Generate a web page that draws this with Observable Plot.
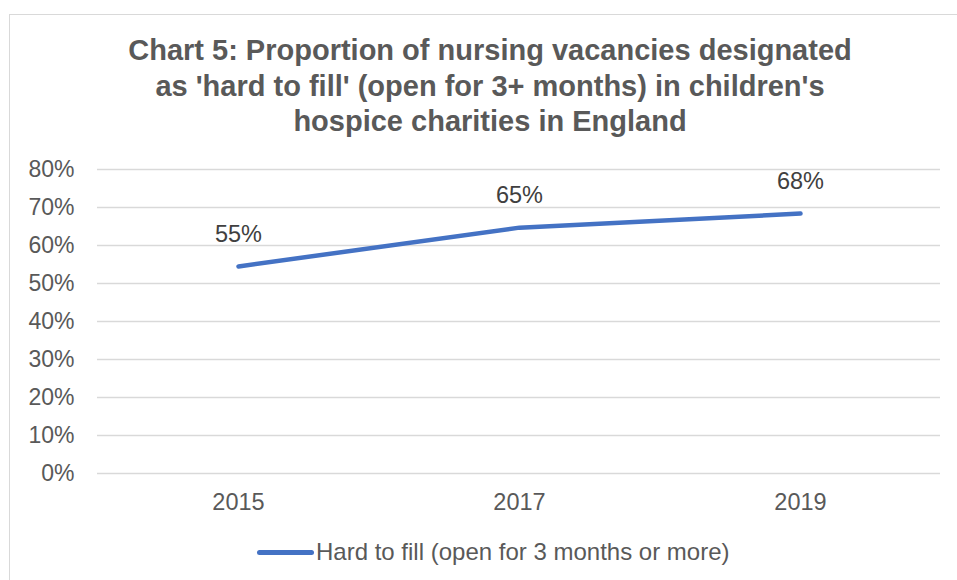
<!DOCTYPE html>
<html>
<head>
<meta charset="utf-8">
<script src="https://cdn.jsdelivr.net/npm/d3@7"></script>
<script src="https://cdn.jsdelivr.net/npm/@observablehq/plot@0.6"></script>
<style>
  body { margin: 0; background: #fff; font-family: "Liberation Sans", Arial, sans-serif; }
  #wrap { position: relative; width: 957px; height: 580px; overflow: hidden; }
  #frame { position: absolute; left: 9px; top: 14px; width: 1000px; height: 700px; border: 1.5px solid #d9d9d9; box-sizing: border-box; }
  #title { position: absolute; left: 0; width: 980px; top: 33px; text-align: center; font-weight: bold; font-size: 29px; line-height: 35.5px; color: #595959; white-space: nowrap; }
  #chart { position: absolute; left: 0; top: 150px; }
  #legend { position: absolute; top: 538px; left: 257px; font-size: 24px; line-height: 28px; color: #595959; display: flex; align-items: center; white-space: nowrap; }
  #legend .sw { width: 57px; height: 5px; background: #4472C4; border-radius: 3px; margin-right: 2px; }
</style>
</head>
<body>
<div id="wrap">
  <div id="frame"></div>
  <div id="title">Chart 5: Proportion of nursing vacancies designated<br>as 'hard to fill' (open for 3+ months) in children's<br>hospice charities in England</div>
  <div id="chart"></div>
  <div id="legend"><div class="sw"></div><span>Hard to fill (open for 3 months or more)</span></div>
</div>
<script>
const years = ["2015", "2017", "2019"];
const values = [0.545, 0.647, 0.684];
const labels = ["55%", "65%", "68%"];
const yTicks = [0, 0.1, 0.2, 0.3, 0.4, 0.5, 0.6, 0.7, 0.8];

const data = years.map((y, i) => ({year: y, value: values[i], label: labels[i]}));
const pct = d => Math.round(d * 100) + "%";

const chart = Plot.plot({
  width: 957,
  height: 380,
  marginLeft: 97,
  marginRight: 17,
  marginTop: 19,
  marginBottom: 57,
  style: {fontFamily: "'Liberation Sans', Arial, sans-serif", fontSize: "23px", color: "#595959", background: "transparent"},
  x: {type: "point", domain: years, padding: 0.5, label: null},
  y: {domain: [0, 0.8], label: null},
  marks: [
    Plot.gridY(yTicks, {stroke: "#d9d9d9", strokeOpacity: 1, strokeWidth: 1.3}),
    Plot.axisX({tickSize: 0, tickPadding: 20, fontSize: 23.5, label: null}),
    Plot.axisY({ticks: yTicks, tickFormat: pct, tickSize: 0, tickPadding: 23, fontSize: 23, label: null}),
    Plot.line(data, {x: "year", y: "value", stroke: "#4472C4", strokeWidth: 4.5, strokeLinecap: "round", strokeLinejoin: "round"}),
    Plot.text(data, {x: "year", y: "value", text: "label", dy: -32, fontSize: 23.5, fill: "#404040"})
  ]
});
document.getElementById("chart").appendChild(chart);
</script>
</body>
</html>
